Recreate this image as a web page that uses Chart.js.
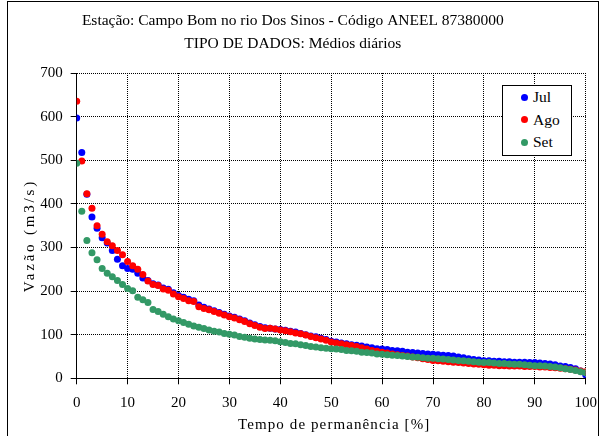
<!DOCTYPE html>
<html>
<head>
<meta charset="utf-8">
<script src="https://cdn.jsdelivr.net/npm/chart.js@4"></script>
<style>
  body { margin: 0; background: #fff; }
  #wrap { position: relative; width: 600px; height: 436px; overflow: hidden; }
  #frame { position: absolute; left: 7px; top: 1px; width: 590px; height: 460px; border: 1px solid #000; pointer-events: none; }
  #legend { position: absolute; left: 502px; top: 85px; width: 68px; height: 69px; border: 1px solid #000; background: #fff;
            font-family: "Liberation Serif", serif; font-size: 15.5px; }
  #legend div { position: absolute; left: 30px; line-height: 18px; }
  #legend span { position: absolute; left: -12px; top: 5.5px; width: 7px; height: 7px; border-radius: 50%; }
</style>
</head>
<body>
<div id="wrap">
  <canvas id="curvaPermanencia" width="600" height="436"></canvas>
  <div id="legend"></div>
  <div id="frame"></div>
</div>
<script>
// Curva de permanência - vazões médias diárias (m3/s) por mês
const permanencia = [];
for (let i = 0; i <= 100; i++) permanencia.push(i);

const jul = [597, 518, 422, 370, 344, 322, 310, 293, 273, 258, 252, 250, 241, 230, 224, 217, 214, 207, 204, 196,
  190, 186, 181, 178, 168, 163, 159, 155, 151, 147, 143, 140, 136, 132, 127, 123, 119, 116, 115, 113,
  112, 110, 108, 106, 103, 100, 97, 95, 92, 89, 85, 83, 81, 79, 77, 76, 74, 72, 70, 68,
  67, 66, 64, 63, 62, 60, 59, 58, 57, 56, 55, 54, 53, 52, 51, 49, 47, 45, 43, 42,
  40, 40, 39, 39, 38, 38, 37, 37, 37, 36, 36, 35, 34, 33, 31, 28, 27, 25, 22, 17, 8];

const ago = [635, 498, 423, 390, 350, 330, 313, 304, 293, 283, 268, 258, 250, 238, 223, 215, 213, 205, 202, 193,
  187, 183, 178, 176, 164, 160, 157, 153, 149, 145, 141, 138, 134, 130, 125, 121, 117, 114, 115, 113,
  111, 109, 107, 104, 102, 99, 96, 93, 90, 87, 83, 81, 79, 77, 75, 73, 70, 67, 64, 62,
  60, 58, 56, 54, 52, 51, 49, 47, 45, 43, 41, 40, 39, 38, 37, 36, 35, 34, 33, 32,
  31, 30, 30, 29, 29, 28, 28, 28, 27, 27, 27, 26, 26, 25, 24, 23, 22, 21, 19, 17, 15];

const set = [493, 383, 316, 288, 272, 252, 241, 233, 224, 215, 206, 201, 186, 180, 174, 158, 153, 147, 141, 136,
  132, 128, 124, 120, 117, 114, 111, 108, 106, 103, 101, 99, 96, 94, 92, 90, 89, 88, 87, 86,
  84, 82, 80, 79, 77, 75, 73, 72, 70, 69, 68, 67, 66, 64, 63, 62, 60, 59, 58, 56,
  55, 54, 53, 52, 51, 50, 49, 48, 47, 46, 46, 45, 44, 43, 42, 41, 40, 39, 38, 37,
  36, 36, 35, 34, 34, 33, 32, 32, 31, 30, 29, 29, 28, 27, 26, 24, 22, 20, 18, 15, 13];

const meses = ["Jul", "Ago", "Set"];
const cores = ["#0000ff", "#ff0000", "#339966"];
const xTicks = [0, 10, 20, 30, 40, 50, 60, 70, 80, 90, 100];
const yTicks = [0, 100, 200, 300, 400, 500, 600, 700];
const tituloX = "Tempo de permanência [%]";
const tituloY = "Vazão (m3/s)";

const serif = "'Liberation Serif', 'Times New Roman', serif";

function pontos(valores) {
  return valores.map((v, i) => ({ x: permanencia[i], y: v }));
}

const series = [jul, ago, set];
const datasets = series.map((s, i) => ({
  label: meses[i],
  data: pontos(s),
  backgroundColor: cores[i],
  borderColor: cores[i],
  pointRadius: 3.5,
  pointBorderWidth: 0,
  order: 2 - i, // Set desenhado por cima
}));

// legenda em HTML
const leg = document.getElementById("legend");
meses.forEach((m, i) => {
  const d = document.createElement("div");
  d.style.top = (2 + i * 22.5) + "px";
  d.innerHTML = '<span style="background:' + cores[i] + '"></span>' + m;
  leg.appendChild(d);
});

// titulos dos eixos com espaçamento de letras (como no Excel)
const titulosEixos = {
  id: "titulosEixos",
  afterDraw(chart) {
    const { ctx, chartArea } = chart;
    ctx.save();
    ctx.fillStyle = "#000";
    ctx.font = "15px " + serif;
    ctx.textAlign = "center";
    ctx.textBaseline = "middle";
    ctx.letterSpacing = "1.1px";
    ctx.fillText(tituloX, (chartArea.left + chartArea.right) / 2 + 3, 425);
    ctx.letterSpacing = "2.8px";
    ctx.translate(30, (chartArea.top + chartArea.bottom) / 2 + 10);
    ctx.rotate(-Math.PI / 2);
    ctx.fillText(tituloY, 0, 0);
    ctx.restore();
  },
};

const gridOpts = {
  color: "#000",
  lineWidth: 1,
  tickLength: 6,
  tickColor: "#000",
  tickBorderDash: [],
};

new Chart(document.getElementById("curvaPermanencia").getContext("2d"), {
  type: "scatter",
  data: { datasets: datasets },
  plugins: [titulosEixos],
  options: {
    responsive: false,
    animation: false,
    layout: { padding: { left: 0, right: 14.3, top: 0, bottom: 0 } },
    plugins: {
      legend: { display: false },
      tooltip: { enabled: false },
      title: {
        display: true,
        text: ["Estação: Campo Bom no rio Dos Sinos - Código ANEEL 87380000", "TIPO DE DADOS: Médios diários"],
        color: "#000",
        font: { family: serif, size: 15.5, weight: "normal", lineHeight: "23px" },
        padding: { top: 9.5, bottom: 17.5 },
      },
    },
    scales: {
      x: {
        type: "linear",
        min: 0,
        max: 100,
        afterBuildTicks: (scale) => { scale.ticks = xTicks.map((v) => ({ value: v })); },
        ticks: { color: "#000", font: { family: serif, size: 15 }, padding: 10, maxRotation: 0 },
        grid: gridOpts,
        border: { display: true, color: "#000", width: 1, dash: [1, 1] },
        afterFit: (scale) => {
          scale.height = 57.7;
          scale.paddingLeft = 0;
          scale.paddingRight = 0;
        },
      },
      y: {
        type: "linear",
        min: 0,
        max: 700,
        afterBuildTicks: (scale) => { scale.ticks = yTicks.map((v) => ({ value: v })); },
        ticks: { color: "#000", font: { family: serif, size: 15 }, padding: 8 },
        grid: gridOpts,
        border: { display: true, color: "#000", width: 1, dash: [1, 1] },
        afterFit: (scale) => { scale.width = 76.7; },
      },
    },
  },
});
</script>
</body>
</html>
